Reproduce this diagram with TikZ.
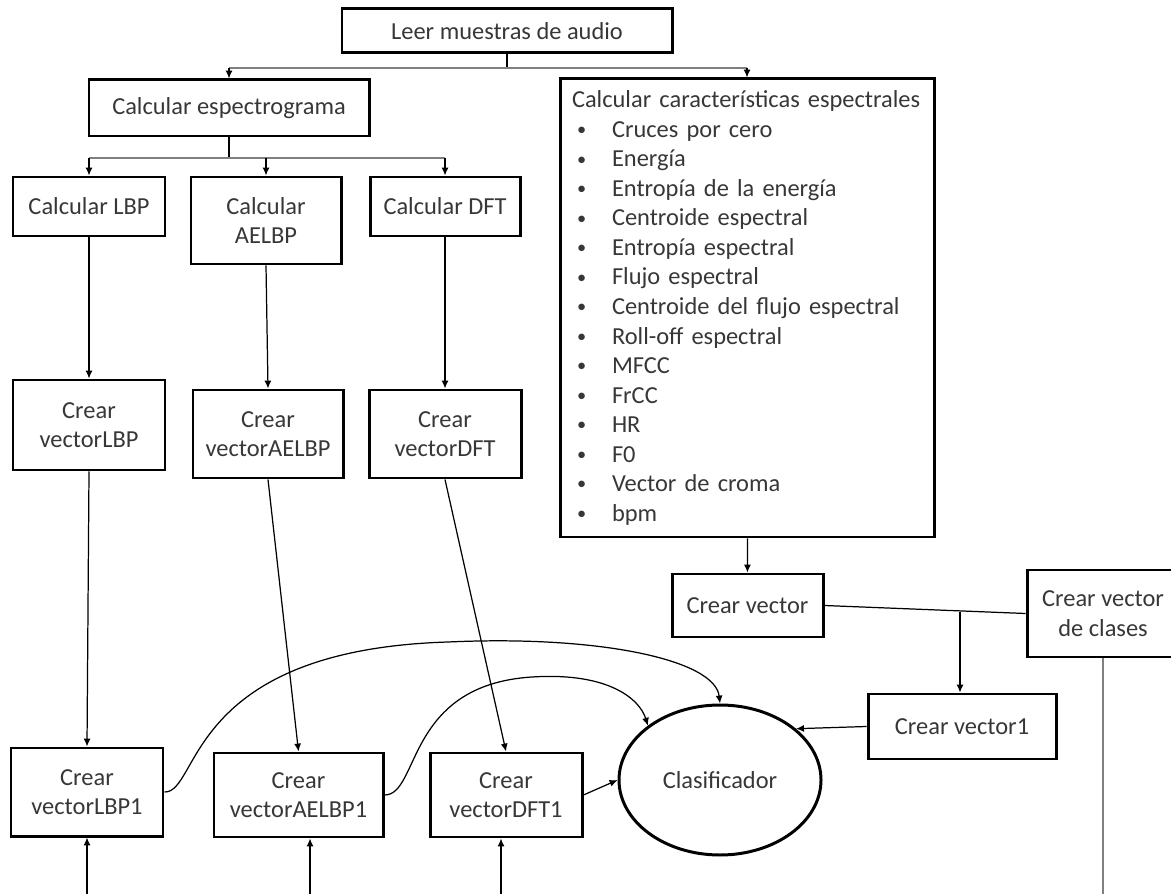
\documentclass[tikz,border=0pt]{standalone}
\usepackage{fontspec}
\setmainfont{Carlito}
\usepackage{tikz}
\usetikzlibrary{arrows.meta}
\usetikzlibrary{shapes,calc}

\definecolor{busgray}{RGB}{128,128,128}
\definecolor{textgray}{RGB}{55,55,55}
\newcommand{\itm}{\hspace*{0.1cm}\makebox[0.7cm][l]{\raisebox{0.15ex}{\scalebox{0.75}{\textbullet}}}}

\begin{document}
\begin{tikzpicture}[
	box/.style={draw, line width=1.7pt, rectangle, inner sep=0pt, align=center,
		text=textgray, font=\fontsize{13.9}{16.8}\selectfont},
	conn/.style={line width=0.7pt, -{Latex[length=4.5pt,width=4pt]}},
	bus/.style={draw=busgray, line width=1.3pt}]

% Fix the page to the size of the reference picture
\useasboundingbox (0,0) rectangle (23.42,-17.88);

% Reading the audio and the two main branches
\node[box, minimum width=6.6cm, minimum height=0.88cm] (leer) at (10.14,-0.62) {Leer muestras de audio};
\node[box, minimum width=5.6cm, minimum height=1.12cm] (espec) at (4.58,-2.16) {Calcular espectrograma};
\node[box, text width=7cm, inner xsep=0.24cm, minimum height=9.16cm, align=left] (carac) at (14.94,-6.16)
	{Calcular características espectrales\\
	\itm Cruces por cero\\
	\itm Energía\\
	\itm Entropía de la energía\\
	\itm Centroide espectral\\
	\itm Entropía espectral\\
	\itm Flujo espectral\\
	\itm Centroide del flujo espectral\\
	\itm Roll-off espectral\\
	\itm MFCC\\
	\itm FrCC\\
	\itm HR\\
	\itm F0\\
	\itm Vector de croma\\
	\itm bpm};

% Texture features computed from the spectrogram
\node[box, minimum width=3.04cm, minimum height=1.18cm] (lbp) at (1.78,-4.13) {Calcular LBP};
\node[box, minimum width=3.0cm, minimum height=1.74cm] (aelbp) at (5.32,-4.41) {Calcular\\AELBP};
\node[box, minimum width=3.0cm, minimum height=1.18cm] (dft) at (8.9,-4.13) {Calcular DFT};

\node[box, minimum width=3.04cm, minimum height=1.8cm] (vLBP) at (1.78,-8.5) {Crear\\vectorLBP};
\node[box, minimum width=3.0cm, minimum height=1.76cm] (vAELBP) at (5.36,-8.68) {Crear\\vectorAELBP};
\node[box, minimum width=3.04cm, minimum height=1.76cm] (vDFT) at (8.9,-8.68) {Crear\\vectorDFT};

\node[box, minimum width=3.04cm, minimum height=1.76cm] (vLBP1) at (1.74,-15.84) {Crear\\vectorLBP1};
\node[box, minimum width=3.38cm, minimum height=1.68cm] (vAELBP1) at (5.97,-15.9) {Crear\\vectorAELBP1};
\node[box, minimum width=3.04cm, minimum height=1.68cm] (vDFT1) at (10.12,-15.9) {Crear\\vectorDFT1};

% Spectral vector, class vector and the classifier
\node[box, minimum width=3.02cm, minimum height=1.26cm] (cvec) at (14.95,-12.11) {Crear vector};
\node[box, minimum width=3.76cm, minimum height=1.3cm] (cvec1) at (19.24,-14.53) {Crear vector1};
\node[box, minimum width=3.04cm, minimum height=1.74cm] (clases) at (22.06,-12.27) {Crear vector\\de clases};
\node[box, ellipse, minimum width=4.04cm, minimum height=3cm] (clasif) at (14.4,-15.6) {Clasificador};

% Branch points and loose ends at the border
\coordinate (b1) at (10.14,-1.36);
\coordinate (b2) at (4.58,-3.16);
\coordinate (b3) at (19.2,-12.23);
\coordinate (in1) at (1.74,-17.88);
\coordinate (in2) at (6.2,-17.88);
\coordinate (in3) at (10.02,-17.88);
\coordinate (out) at (22.06,-17.88);

% Top bus
\draw[line width=0.7pt] (leer) -- (b1);
\draw[bus] (b1 -| espec) -- (b1 -| carac);
\draw[conn] (b1 -| espec) -- (espec);
\draw[conn] (b1 -| carac) -- (carac);

% Spectrogram bus
\draw[line width=0.7pt] (espec) -- (b2);
\draw[bus] (b2 -| lbp) -- (b2 -| dft);
\foreach \n in {lbp, aelbp, dft}
	\draw[conn] (b2 -| \n) -- (\n);

% Straight chains down to the vectors
\draw[conn] (lbp.south) -- (vLBP.north);
\draw[conn] (aelbp.south) -- (vAELBP.north);
\draw[conn] (dft.south) -- (vDFT.north);
\draw[conn] (vLBP.south) -- (vLBP1.north);
\draw[conn] (vAELBP.south) -- (vAELBP1.north);
\draw[conn] (vDFT.south) -- (vDFT1.north);
\draw[conn] (in1) -- (in1 |- vLBP1.south);
\draw[conn] (in2) -- (in2 |- vAELBP1.south);
\draw[conn] (in3) -- (in3 |- vDFT1.south);

% Everything goes into the classifier
\draw[conn] (vLBP1.east) .. controls (4.0,-15.86) and (3.7,-13.0) .. (8.96,-12.84)
	.. controls (12.0,-12.7) and (14.3,-13.2) .. (clasif.north);
\draw[conn] (vAELBP1.east) .. controls (8.4,-15.9) and (8.1,-13.7) .. (10.64,-13.54)
	.. controls (12.2,-13.44) and (12.8,-14.0) .. (clasif.143);
\draw[conn] (vDFT1.east) -- (clasif.west);
\draw[conn] (cvec1.west) -- (clasif.34);

% Spectral features to the vectors
\draw[conn] (carac) -- (cvec);
\draw[line width=0.7pt] (cvec.east) -- (clases.west);
\draw[conn] (b3) -- (b3 |- cvec1.north);
\draw[bus] (clases) -- (out);
\end{tikzpicture}
\end{document}
